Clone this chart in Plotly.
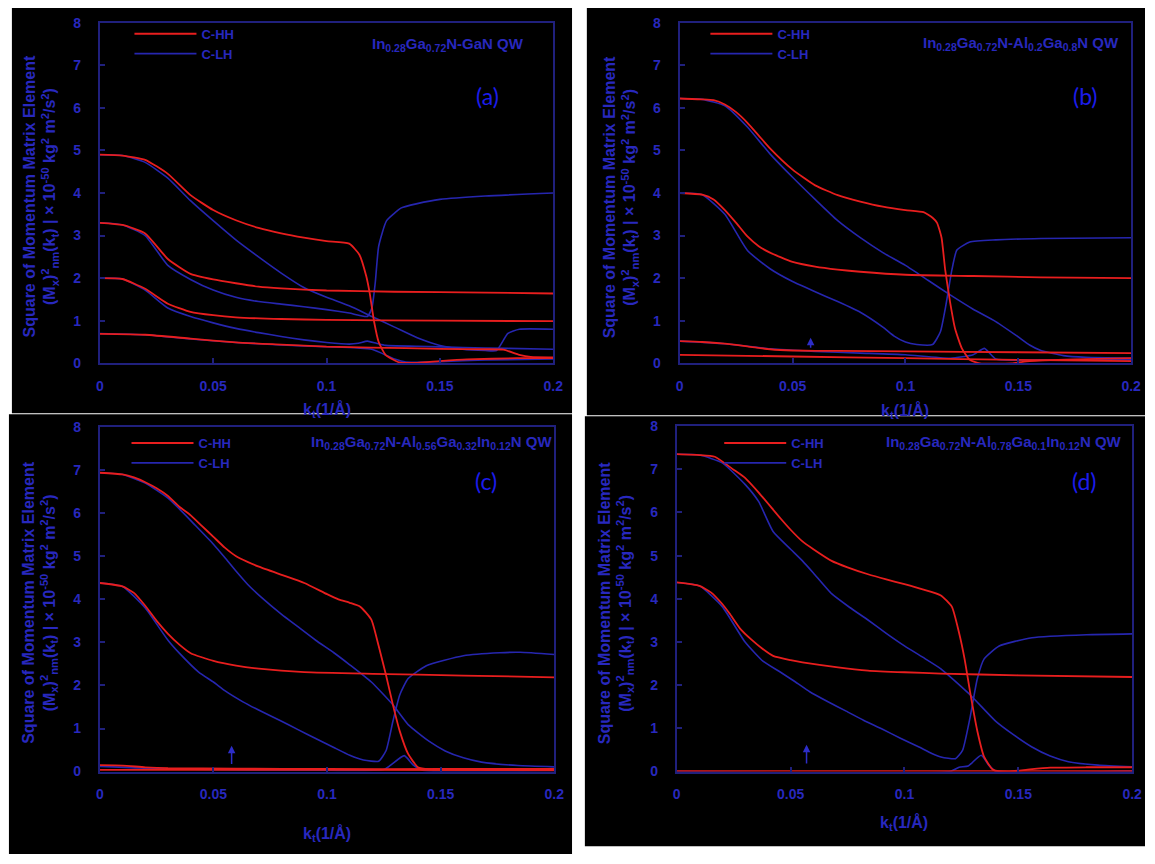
import plotly.graph_objects as go

# ---------------- data (k_t in 1/Å, |M|^2 in 1e-50 kg^2 m^2/s^2) ----------------
# Panel (a)  In0.28Ga0.72N-GaN QW
a_hh1_k = [0, 0.01, 0.02, 0.03, 0.04, 0.05, 0.06, 0.07, 0.08, 0.09, 0.1, 0.11, 0.1145, 0.1175, 0.119, 0.121, 0.123, 0.126, 0.132, 0.14, 0.15, 0.162, 0.184, 0.2]
a_hh1_m = [4.9, 4.88, 4.78, 4.45, 3.95, 3.6, 3.36, 3.18, 3.05, 2.95, 2.87, 2.81, 2.55, 2.05, 1.66, 0.97, 0.5, 0.2, 0.02, 0.01, 0.05, 0.09, 0.12, 0.12]
a_hh2_k = [0, 0.01, 0.02, 0.03, 0.04, 0.05, 0.06, 0.07, 0.08, 0.1, 0.13, 0.17, 0.2]
a_hh2_m = [3.3, 3.25, 3.05, 2.45, 2.1, 1.97, 1.88, 1.8, 1.76, 1.71, 1.68, 1.66, 1.64]
a_hh3_k = [0, 0.01, 0.02, 0.03, 0.04, 0.05, 0.06, 0.08, 0.1, 0.15, 0.2]
a_hh3_m = [2.0, 1.98, 1.75, 1.4, 1.21, 1.13, 1.08, 1.04, 1.02, 1.0, 0.99]
a_hh4_k = [0, 0.02, 0.04, 0.06, 0.08, 0.1, 0.12, 0.15, 0.17, 0.178, 0.185, 0.19, 0.2]
a_hh4_m = [0.69, 0.67, 0.58, 0.49, 0.44, 0.39, 0.37, 0.34, 0.33, 0.32, 0.2, 0.15, 0.14]
a_lh1_k = [0, 0.01, 0.02, 0.03, 0.04, 0.05, 0.06, 0.07, 0.08, 0.09, 0.1, 0.11, 0.12, 0.13, 0.14, 0.15, 0.16, 0.17, 0.175, 0.18, 0.185, 0.2]
a_lh1_m = [4.9, 4.88, 4.72, 4.35, 3.82, 3.35, 2.9, 2.5, 2.12, 1.78, 1.55, 1.35, 1.1, 0.85, 0.6, 0.42, 0.33, 0.3, 0.3, 0.7, 0.8, 0.8]
a_lh2_k = [0, 0.01, 0.02, 0.03, 0.04, 0.05, 0.06, 0.07, 0.08, 0.09, 0.1, 0.11, 0.118, 0.12, 0.1215, 0.123, 0.1265, 0.133, 0.14, 0.15, 0.17, 0.2]
a_lh2_m = [3.3, 3.25, 3.0, 2.3, 1.97, 1.72, 1.55, 1.45, 1.39, 1.33, 1.26, 1.18, 1.1, 1.3, 1.9, 2.75, 3.35, 3.65, 3.75, 3.85, 3.93, 4.0]
a_lh3_k = [0, 0.01, 0.02, 0.03, 0.04, 0.05, 0.06, 0.07, 0.08, 0.09, 0.1, 0.11, 0.114, 0.118, 0.122, 0.126, 0.14, 0.16, 0.18, 0.2]
a_lh3_m = [2.0, 1.98, 1.72, 1.3, 1.1, 0.95, 0.82, 0.72, 0.63, 0.55, 0.49, 0.45, 0.47, 0.52, 0.47, 0.42, 0.4, 0.37, 0.35, 0.33]
a_lh4_k = [0, 0.02, 0.04, 0.06, 0.08, 0.1, 0.12, 0.13, 0.135, 0.15, 0.17, 0.2]
a_lh4_m = [0.7, 0.67, 0.57, 0.49, 0.43, 0.39, 0.33, 0.1, 0.03, 0.04, 0.08, 0.1]

# Panel (b)  In0.28Ga0.72N-Al0.2Ga0.8N QW
b_hh1_k = [0, 0.01, 0.015, 0.02, 0.025, 0.03, 0.035, 0.04, 0.05, 0.06, 0.07, 0.08, 0.09, 0.1, 0.108, 0.112, 0.114, 0.116, 0.1176, 0.1198, 0.122, 0.125, 0.1285, 0.133, 0.147, 0.155, 0.175, 0.2]
b_hh1_m = [6.22, 6.2, 6.18, 6.08, 5.9, 5.65, 5.35, 5.05, 4.55, 4.18, 3.95, 3.8, 3.68, 3.6, 3.55, 3.42, 3.3, 2.95, 2.2, 1.43, 0.81, 0.35, 0.08, 0.0, 0.0, 0.05, 0.09, 0.12]
b_hh2_k = [0, 0.01, 0.015, 0.02, 0.025, 0.03, 0.035, 0.04, 0.05, 0.06, 0.07, 0.08, 0.1, 0.13, 0.16, 0.2]
b_hh2_m = [4.0, 3.96, 3.85, 3.6, 3.3, 2.98, 2.75, 2.6, 2.38, 2.27, 2.2, 2.15, 2.08, 2.05, 2.02, 2.0]
b_hh3_k = [0, 0.01, 0.02, 0.03, 0.04, 0.05, 0.07, 0.1, 0.15, 0.2]
b_hh3_m = [0.52, 0.5, 0.46, 0.4, 0.33, 0.3, 0.29, 0.28, 0.26, 0.24]
b_hh4_k = [0, 0.05, 0.1, 0.15, 0.2]
b_hh4_m = [0.2, 0.16, 0.12, 0.08, 0.05]
b_lh1_k = [0, 0.01, 0.02, 0.03, 0.04, 0.05, 0.06, 0.07, 0.08, 0.09, 0.1, 0.11, 0.12, 0.13, 0.14, 0.15, 0.155, 0.16, 0.17, 0.18, 0.2]
b_lh1_m = [6.22, 6.2, 6.05, 5.55, 4.92, 4.37, 3.85, 3.35, 2.95, 2.6, 2.3, 1.95, 1.6, 1.27, 0.98, 0.62, 0.43, 0.3, 0.18, 0.14, 0.12]
b_lh2_k = [0, 0.01, 0.02, 0.03, 0.04, 0.05, 0.06, 0.07, 0.08, 0.09, 0.095, 0.1, 0.105, 0.112, 0.1155, 0.1176, 0.1206, 0.1228, 0.1285, 0.14, 0.16, 0.2]
b_lh2_m = [4.0, 3.96, 3.5, 2.65, 2.22, 1.92, 1.68, 1.45, 1.2, 0.85, 0.64, 0.5, 0.44, 0.44, 0.74, 1.27, 2.2, 2.66, 2.85, 2.9, 2.93, 2.95]
b_lh3_k = [0, 0.02, 0.04, 0.06, 0.08, 0.1, 0.12, 0.13, 0.135, 0.14, 0.16, 0.2]
b_lh3_m = [0.52, 0.46, 0.34, 0.28, 0.24, 0.2, 0.12, 0.2, 0.35, 0.1, 0.08, 0.08]

# Panel (c)  In0.28Ga0.72N-Al0.56Ga0.32In0.12N QW
c_hh1_k = [0, 0.01, 0.015, 0.02, 0.025, 0.03, 0.035, 0.04, 0.045, 0.05, 0.055, 0.06, 0.065, 0.07, 0.08, 0.09, 0.1, 0.105, 0.11, 0.1146, 0.1195, 0.1227, 0.126, 0.129, 0.132, 0.1357, 0.14, 0.145, 0.2]
c_hh1_m = [6.94, 6.9, 6.83, 6.72, 6.58, 6.4, 6.15, 5.95, 5.7, 5.45, 5.2, 5.0, 4.87, 4.76, 4.57, 4.38, 4.12, 4.0, 3.92, 3.83, 3.53, 2.92, 2.23, 1.55, 0.94, 0.41, 0.1, 0.05, 0.05]
c_hh2_k = [0, 0.01, 0.015, 0.02, 0.025, 0.03, 0.035, 0.04, 0.05, 0.06, 0.07, 0.09, 0.12, 0.16, 0.2]
c_hh2_m = [4.38, 4.3, 4.15, 3.85, 3.5, 3.2, 2.95, 2.75, 2.57, 2.46, 2.39, 2.31, 2.27, 2.23, 2.19]
c_hh3_k = [0, 0.01, 0.02, 0.03, 0.06, 0.1, 0.15, 0.2]
c_hh3_m = [0.15, 0.14, 0.1, 0.08, 0.07, 0.06, 0.06, 0.06]
c_hh4_k = [0, 0.1, 0.2]
c_hh4_m = [0.04, 0.04, 0.03]
c_lh1_k = [0, 0.01, 0.02, 0.03, 0.035, 0.042, 0.05, 0.055, 0.06, 0.065, 0.071, 0.08, 0.087, 0.095, 0.103, 0.11, 0.1195, 0.129, 0.1357, 0.145, 0.152, 0.16, 0.168, 0.184, 0.2]
c_lh1_m = [6.94, 6.9, 6.7, 6.35, 6.1, 5.72, 5.28, 4.97, 4.65, 4.35, 4.05, 3.65, 3.37, 3.05, 2.76, 2.48, 2.08, 1.55, 1.09, 0.7, 0.48, 0.32, 0.22, 0.14, 0.11]
c_lh2_k = [0, 0.01, 0.02, 0.03, 0.035, 0.0435, 0.05, 0.055, 0.063, 0.071, 0.08, 0.087, 0.095, 0.103, 0.11, 0.116, 0.1227, 0.126, 0.129, 0.132, 0.1357, 0.1437, 0.16, 0.176, 0.185, 0.2]
c_lh2_m = [4.38, 4.3, 3.8, 3.05, 2.75, 2.31, 2.08, 1.88, 1.62, 1.4, 1.17, 0.98, 0.77, 0.56, 0.38, 0.27, 0.24, 0.49, 1.17, 1.78, 2.16, 2.46, 2.69, 2.76, 2.77, 2.72]
c_lh3_k = [0, 0.03, 0.1, 0.125, 0.128, 0.134, 0.138, 0.142, 0.2]
c_lh3_m = [0.12, 0.06, 0.03, 0.05, 0.15, 0.37, 0.15, 0.03, 0.02]

# Panel (d)  In0.28Ga0.72N-Al0.78Ga0.1In0.12N QW
d_hh1_k = [0, 0.01, 0.0167, 0.025, 0.03, 0.036, 0.0456, 0.05, 0.0552, 0.06, 0.068, 0.075, 0.084, 0.092, 0.1, 0.108, 0.116, 0.1208, 0.124, 0.1264, 0.1288, 0.132, 0.135, 0.139, 0.146, 0.155, 0.164, 0.18, 0.2]
d_hh1_m = [7.35, 7.33, 7.29, 6.99, 6.8, 6.46, 5.86, 5.6, 5.33, 5.15, 4.88, 4.73, 4.57, 4.45, 4.34, 4.22, 4.08, 3.82, 3.21, 2.61, 1.85, 0.94, 0.34, 0.04, 0.0, 0.05, 0.09, 0.1, 0.1]
d_hh2_k = [0, 0.01, 0.015, 0.02, 0.0232, 0.028, 0.0327, 0.0375, 0.0423, 0.05, 0.0552, 0.07, 0.084, 0.1, 0.116, 0.15, 0.2]
d_hh2_m = [4.38, 4.3, 4.15, 3.88, 3.66, 3.3, 3.06, 2.85, 2.68, 2.58, 2.53, 2.42, 2.34, 2.3, 2.27, 2.23, 2.19]
d_hh3_k = [0, 0.2]
d_hh3_m = [0.01, 0.01]
d_lh1_k = [0, 0.01, 0.02, 0.03, 0.036, 0.0423, 0.05, 0.0552, 0.06, 0.068, 0.076, 0.084, 0.092, 0.1, 0.108, 0.116, 0.1288, 0.14, 0.148, 0.156, 0.164, 0.172, 0.185, 0.2]
d_lh1_m = [7.35, 7.33, 7.15, 6.65, 6.25, 5.56, 5.15, 4.88, 4.6, 4.12, 3.8, 3.51, 3.2, 2.91, 2.65, 2.38, 1.78, 1.17, 0.85, 0.57, 0.36, 0.23, 0.15, 0.11]
d_lh2_k = [0, 0.01, 0.02, 0.03, 0.038, 0.0456, 0.052, 0.0584, 0.066, 0.0744, 0.082, 0.0904, 0.098, 0.1064, 0.112, 0.116, 0.1224, 0.1255, 0.1288, 0.132, 0.135, 0.1416, 0.156, 0.18, 0.2]
d_lh2_m = [4.38, 4.3, 3.82, 3.0, 2.55, 2.3, 2.08, 1.85, 1.63, 1.4, 1.19, 0.98, 0.78, 0.57, 0.42, 0.34, 0.3, 0.49, 1.25, 2.15, 2.61, 2.91, 3.1, 3.17, 3.19]
d_lh3_k = [0, 0.12, 0.124, 0.128, 0.1337, 0.137, 0.14, 0.2]
d_lh3_m = [0.0, 0.0, 0.1, 0.13, 0.38, 0.15, 0.01, 0.01]

x_ticks = [0, 0.05, 0.1, 0.15, 0.2]
x_tick_text = ["0", "0.05", "0.1", "0.15", "0.2"]
y_ticks = [0, 1, 2, 3, 4, 5, 6, 7, 8]

panel_titles = [
    "In<sub>0.28</sub>Ga<sub>0.72</sub>N-GaN QW",
    "In<sub>0.28</sub>Ga<sub>0.72</sub>N-Al<sub>0.2</sub>Ga<sub>0.8</sub>N QW",
    "In<sub>0.28</sub>Ga<sub>0.72</sub>N-Al<sub>0.56</sub>Ga<sub>0.32</sub>In<sub>0.12</sub>N QW",
    "In<sub>0.28</sub>Ga<sub>0.72</sub>N-Al<sub>0.78</sub>Ga<sub>0.1</sub>In<sub>0.12</sub>N QW",
]
panel_labels = ["(a)", "(b)", "(c)", "(d)"]
arrow_k = [None, 0.058, 0.058, 0.057]
arrow_tail = [None, 0.33, 0.14, 0.15]
arrow_tip = [None, 0.6, 0.6, 0.62]

panels = [
    ([(a_hh1_k, a_hh1_m), (a_hh2_k, a_hh2_m), (a_hh3_k, a_hh3_m), (a_hh4_k, a_hh4_m)],
     [(a_lh1_k, a_lh1_m), (a_lh2_k, a_lh2_m), (a_lh3_k, a_lh3_m), (a_lh4_k, a_lh4_m)]),
    ([(b_hh1_k, b_hh1_m), (b_hh2_k, b_hh2_m), (b_hh3_k, b_hh3_m), (b_hh4_k, b_hh4_m)],
     [(b_lh1_k, b_lh1_m), (b_lh2_k, b_lh2_m), (b_lh3_k, b_lh3_m)]),
    ([(c_hh1_k, c_hh1_m), (c_hh2_k, c_hh2_m), (c_hh3_k, c_hh3_m), (c_hh4_k, c_hh4_m)],
     [(c_lh1_k, c_lh1_m), (c_lh2_k, c_lh2_m), (c_lh3_k, c_lh3_m)]),
    ([(d_hh1_k, d_hh1_m), (d_hh2_k, d_hh2_m), (d_hh3_k, d_hh3_m)],
     [(d_lh1_k, d_lh1_m), (d_lh2_k, d_lh2_m), (d_lh3_k, d_lh3_m)]),
]

# ---------------- layout geometry (pixels) ----------------
W, H = 1155, 864
RED = "rgb(232,30,30)"
BLUE = "rgb(38,38,175)"
TXT = "rgb(40,40,190)"
AXC = "rgb(32,32,125)"
FONT = "Liberation Sans"

# (x0px, x1px, ytop_px(=8), ybottom_px(=0))
plot_px = [(97, 556, 15, 362), (684, 1141, 15, 362), (97, 557, 427, 778), (681, 1142, 426, 778)]
bg_px = [(8, 575, 0, 413), (590, 1155, 0, 415), (5, 575, 414, 862), (588, 1155, 416, 854)]
legend_px = [(127, 11), (710, 11), (124, 428), (724, 428)]
title_right_px = [(528, 37), (1131, 36), (557, 443), (1134, 443)]
label_px = [(489, 90), (1095, 90), (488, 482), (1094, 482)]
ytitle_px = [37, 624, 37, 619]
xtitle_py = [410, 411, 842, 830]


def px(x):
    return x / W


def py(y):
    return 1 - y / H


fig = go.Figure()
shapes = []
annotations = []
layout_axes = {}

for i, (hh_list, lh_list) in enumerate(panels):
    n = i + 1
    xa = "x" if n == 1 else f"x{n}"
    ya = "y" if n == 1 else f"y{n}"
    leg = "legend" if n == 1 else f"legend{n}"
    for j, (k, m) in enumerate(lh_list):
        fig.add_trace(go.Scatter(x=k, y=m, mode="lines", name="C-LH",
                                 line=dict(color=BLUE, width=1.6, shape="spline", smoothing=0.5),
                                 xaxis=xa, yaxis=ya, legend=leg, showlegend=(j == 0),
                                 legendrank=2))
    for j, (k, m) in enumerate(hh_list):
        fig.add_trace(go.Scatter(x=k, y=m, mode="lines", name="C-HH",
                                 line=dict(color=RED, width=1.8, shape="spline", smoothing=0.5),
                                 xaxis=xa, yaxis=ya, legend=leg, showlegend=(j == 0),
                                 legendrank=1))

    x0, x1, yt, yb = plot_px[i]
    xkey = "xaxis" if n == 1 else f"xaxis{n}"
    ykey = "yaxis" if n == 1 else f"yaxis{n}"
    layout_axes[xkey] = dict(domain=[px(x0), px(x1)], anchor=ya, range=[0, 0.2],
                             tickvals=x_ticks, ticktext=x_tick_text, showgrid=False, zeroline=False,
                             showline=True, linecolor=AXC, linewidth=2, mirror=True,
                             ticks="inside", ticklen=5, tickcolor=AXC, tickwidth=1.5,
                             ticklabelstandoff=9,
                             tickfont=dict(family=FONT, size=14, color=TXT, weight="bold"))
    layout_axes[ykey] = dict(domain=[py(yb), py(yt)], anchor=xa, range=[0, 8],
                             tickvals=y_ticks, showgrid=False, zeroline=False,
                             showline=True, linecolor=AXC, linewidth=2, mirror=True,
                             ticks="inside", ticklen=5, tickcolor=AXC, tickwidth=1.5,
                             ticklabelstandoff=14,
                             tickfont=dict(family=FONT, size=14, color=TXT, weight="bold"))
    lx, ly = legend_px[i]
    layout_axes[leg] = dict(x=px(lx), y=py(ly), xanchor="left", yanchor="top",
                            bgcolor="rgba(0,0,0,0)", borderwidth=0, itemwidth=62,
                            tracegroupgap=0, traceorder="normal",
                            font=dict(family=FONT, size=13, color=TXT, weight="bold"))

    bx0, bx1, by0, by1 = bg_px[i]
    shapes.append(dict(type="rect", xref="paper", yref="paper", x0=px(bx0), x1=px(bx1),
                       y0=py(by1), y1=py(by0), fillcolor="black", line=dict(width=0), layer="below"))

    common = dict(xref="paper", yref="paper", showarrow=False, xanchor="center", yanchor="middle")
    tx, ty = title_right_px[i]
    annotations.append(dict(text=panel_titles[i], x=px(tx), y=py(ty), xref="paper", yref="paper",
                            showarrow=False, xanchor="right", yanchor="middle",
                            font=dict(family=FONT, size=15, color=TXT, weight="bold")))
    lbx, lby = label_px[i]
    annotations.append(dict(text=panel_labels[i], x=px(lbx), y=py(lby),
                            font=dict(family="Lato", size=23, color="rgb(28,28,235)"), **common))
    annotations.append(dict(
        text="Square of Momentum Matrix Element<br>(M<sub>x</sub>)<sup>2</sup><sub>nm</sub>(k<sub>t</sub>) | × 10<sup>-50</sup> kg<sup>2</sup> m<sup>2</sup>/s<sup>2</sup>)",
        x=px(ytitle_px[i]), y=py((yt + yb) / 2 + 4), textangle=-90,
        font=dict(family=FONT, size=16, color=TXT, weight="bold"), **common))
    annotations.append(dict(text="k<sub>t</sub>(1/Å)", x=px((x0 + x1) / 2), y=py(xtitle_py[i]),
                            font=dict(family=FONT, size=16, color=TXT, weight="bold"), **common))
    if arrow_k[i] is not None:
        annotations.append(dict(text="", x=arrow_k[i], y=arrow_tip[i], xref=xa, yref=ya,
                                ax=arrow_k[i], ay=arrow_tail[i], axref=xa, ayref=ya,
                                showarrow=True, arrowhead=2, arrowsize=1, arrowwidth=1.5,
                                arrowcolor="rgb(45,45,200)"))

fig.update_layout(width=W, height=H, autosize=False,
                  margin=dict(l=0, r=0, t=0, b=0),
                  paper_bgcolor="white", plot_bgcolor="rgba(0,0,0,0)",
                  shapes=shapes, annotations=annotations, **layout_axes)

fig.write_html("out.html")
